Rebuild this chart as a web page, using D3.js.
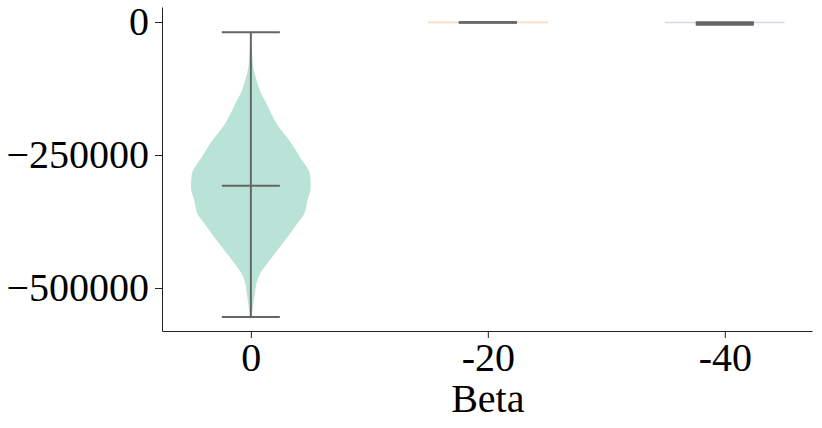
<!DOCTYPE html>
<html>
<head>
<meta charset="utf-8">
<script src="https://cdn.jsdelivr.net/npm/d3@7"></script>
<style>
  body { margin: 0; background: white; }
  svg { display: block; }
</style>
</head>
<body>
<div id="chart"></div>
<script>
// categories along the x axis
const categories = ["0", "-20", "-40"];
const colors = ["#66c2a5", "#fdae6b", "#9e9ac8"];

// whisker summary per category (min, median, max)
const mins = [-554500, -1200, -5000];
const medians = [-308000, -600, -2500];
const maxs = [-19400, -300, -500];

// density outline of the "0" violin (value, relative width)
const kdeValues0 = [-43200, -67700, -86500, -109000, -131600, -150400, -169200, -193600,
  -225600, -255600, -282000, -297000, -315800, -334600, -359000, -377800, -404100,
  -428600, -453000, -471800, -490600, -516900, -541400, -556400];
const kdeDensity0 = [0.005, 0.017, 0.034, 0.085, 0.15, 0.24, 0.32, 0.44,
  0.66, 0.83, 0.98, 1.0, 1.0, 0.95, 0.9, 0.78, 0.61,
  0.44, 0.27, 0.15, 0.085, 0.05, 0.017, 0.005];
// the other two collapse to a flat line near zero
const kdeValues1 = [-700, -600, -500];
const kdeDensity1 = [1, 1, 1];
const kdeValues2 = [-1000, -900, -800];
const kdeDensity2 = [1, 1, 1];

const yTicks = [0, -250000, -500000];

const width = 822, height = 428;
const marginLeft = 162, marginRight = 10, marginTop = 7, marginBottom = 97;

const svg = d3.select("#chart").append("svg")
    .attr("width", width)
    .attr("height", height)
    .style("font-family", "'Liberation Serif', 'Times New Roman', serif");

const x = d3.scaleLinear()
    .domain([-0.375, 2.368])
    .range([marginLeft, width - marginRight]);

const y = d3.scaleLinear()
    .domain([-580800, 28200])
    .range([height - marginBottom, marginTop]);

const halfWidth = 59;   // widest violin half-width in px
const capHalf = 29;

const kdes = [
  {values: kdeValues0, density: kdeDensity0},
  {values: kdeValues1, density: kdeDensity1},
  {values: kdeValues2, density: kdeDensity2}
];

const area = d3.area()
    .curve(d3.curveCatmullRom)
    .y(d => y(d[0]))
    .x0(d => -d[1] * halfWidth)
    .x1(d => d[1] * halfWidth);

const g = svg.append("g")
  .selectAll("g")
  .data(categories)
  .join("g")
    .attr("transform", (d, i) => `translate(${x(i)},0)`);

g.append("path")
    .attr("d", (d, i) => {
      const k = kdes[i];
      return area(k.values.map((v, j) => [v, k.density[j]]));
    })
    .attr("fill", (d, i) => colors[i])
    .attr("stroke", (d, i) => colors[i])
    .attr("stroke-width", (d, i) => i === 0 ? 1.2 : 1.6)
    .attr("opacity", (d, i) => i === 0 ? 0.45 : 0.4);

// whisker line
g.append("line")
    .attr("y1", (d, i) => y(mins[i]))
    .attr("y2", (d, i) => y(maxs[i]))
    .attr("stroke", "#666")
    .attr("stroke-width", 2);

// caps at min, median, max
[mins, medians, maxs].forEach(arr => {
  g.append("line")
      .attr("x1", -capHalf)
      .attr("x2", capHalf)
      .attr("y1", (d, i) => y(arr[i]))
      .attr("y2", (d, i) => y(arr[i]))
      .attr("stroke", "#666")
      .attr("stroke-width", 2);
});

// axes
svg.append("g")
    .attr("transform", `translate(${marginLeft},0)`)
    .call(d3.axisLeft(y)
        .tickValues(yTicks)
        .tickSize(7)
        .tickPadding(6)
        .tickSizeOuter(0)
        .tickFormat(d => d < 0 ? "\u2212" + Math.abs(d) : d))
    .call(g => g.select(".domain").attr("stroke", "#222"))
    .call(g => g.selectAll(".tick line").attr("stroke", "#222"))
    .call(g => g.selectAll("text")
        .attr("fill", "black")
        .style("font-size", "40px")
        .style("font-family", "'Liberation Serif', serif"));

svg.append("g")
    .attr("transform", `translate(0,${height - marginBottom})`)
    .call(d3.axisBottom(x)
        .tickValues([0, 1, 2])
        .tickSize(7)
        .tickPadding(5)
        .tickSizeOuter(0)
        .tickFormat(i => categories[i]))
    .call(g => g.select(".domain").attr("stroke", "#222"))
    .call(g => g.selectAll(".tick line").attr("stroke", "#222"))
    .call(g => g.selectAll("text")
        .attr("fill", "black")
        .style("font-size", "40px")
        .style("font-family", "'Liberation Serif', serif"));

svg.append("text")
    .attr("x", x(1))
    .attr("y", 412)
    .attr("text-anchor", "middle")
    .style("font-size", "40px")
    .text("Beta");
</script>
</body>
</html>
